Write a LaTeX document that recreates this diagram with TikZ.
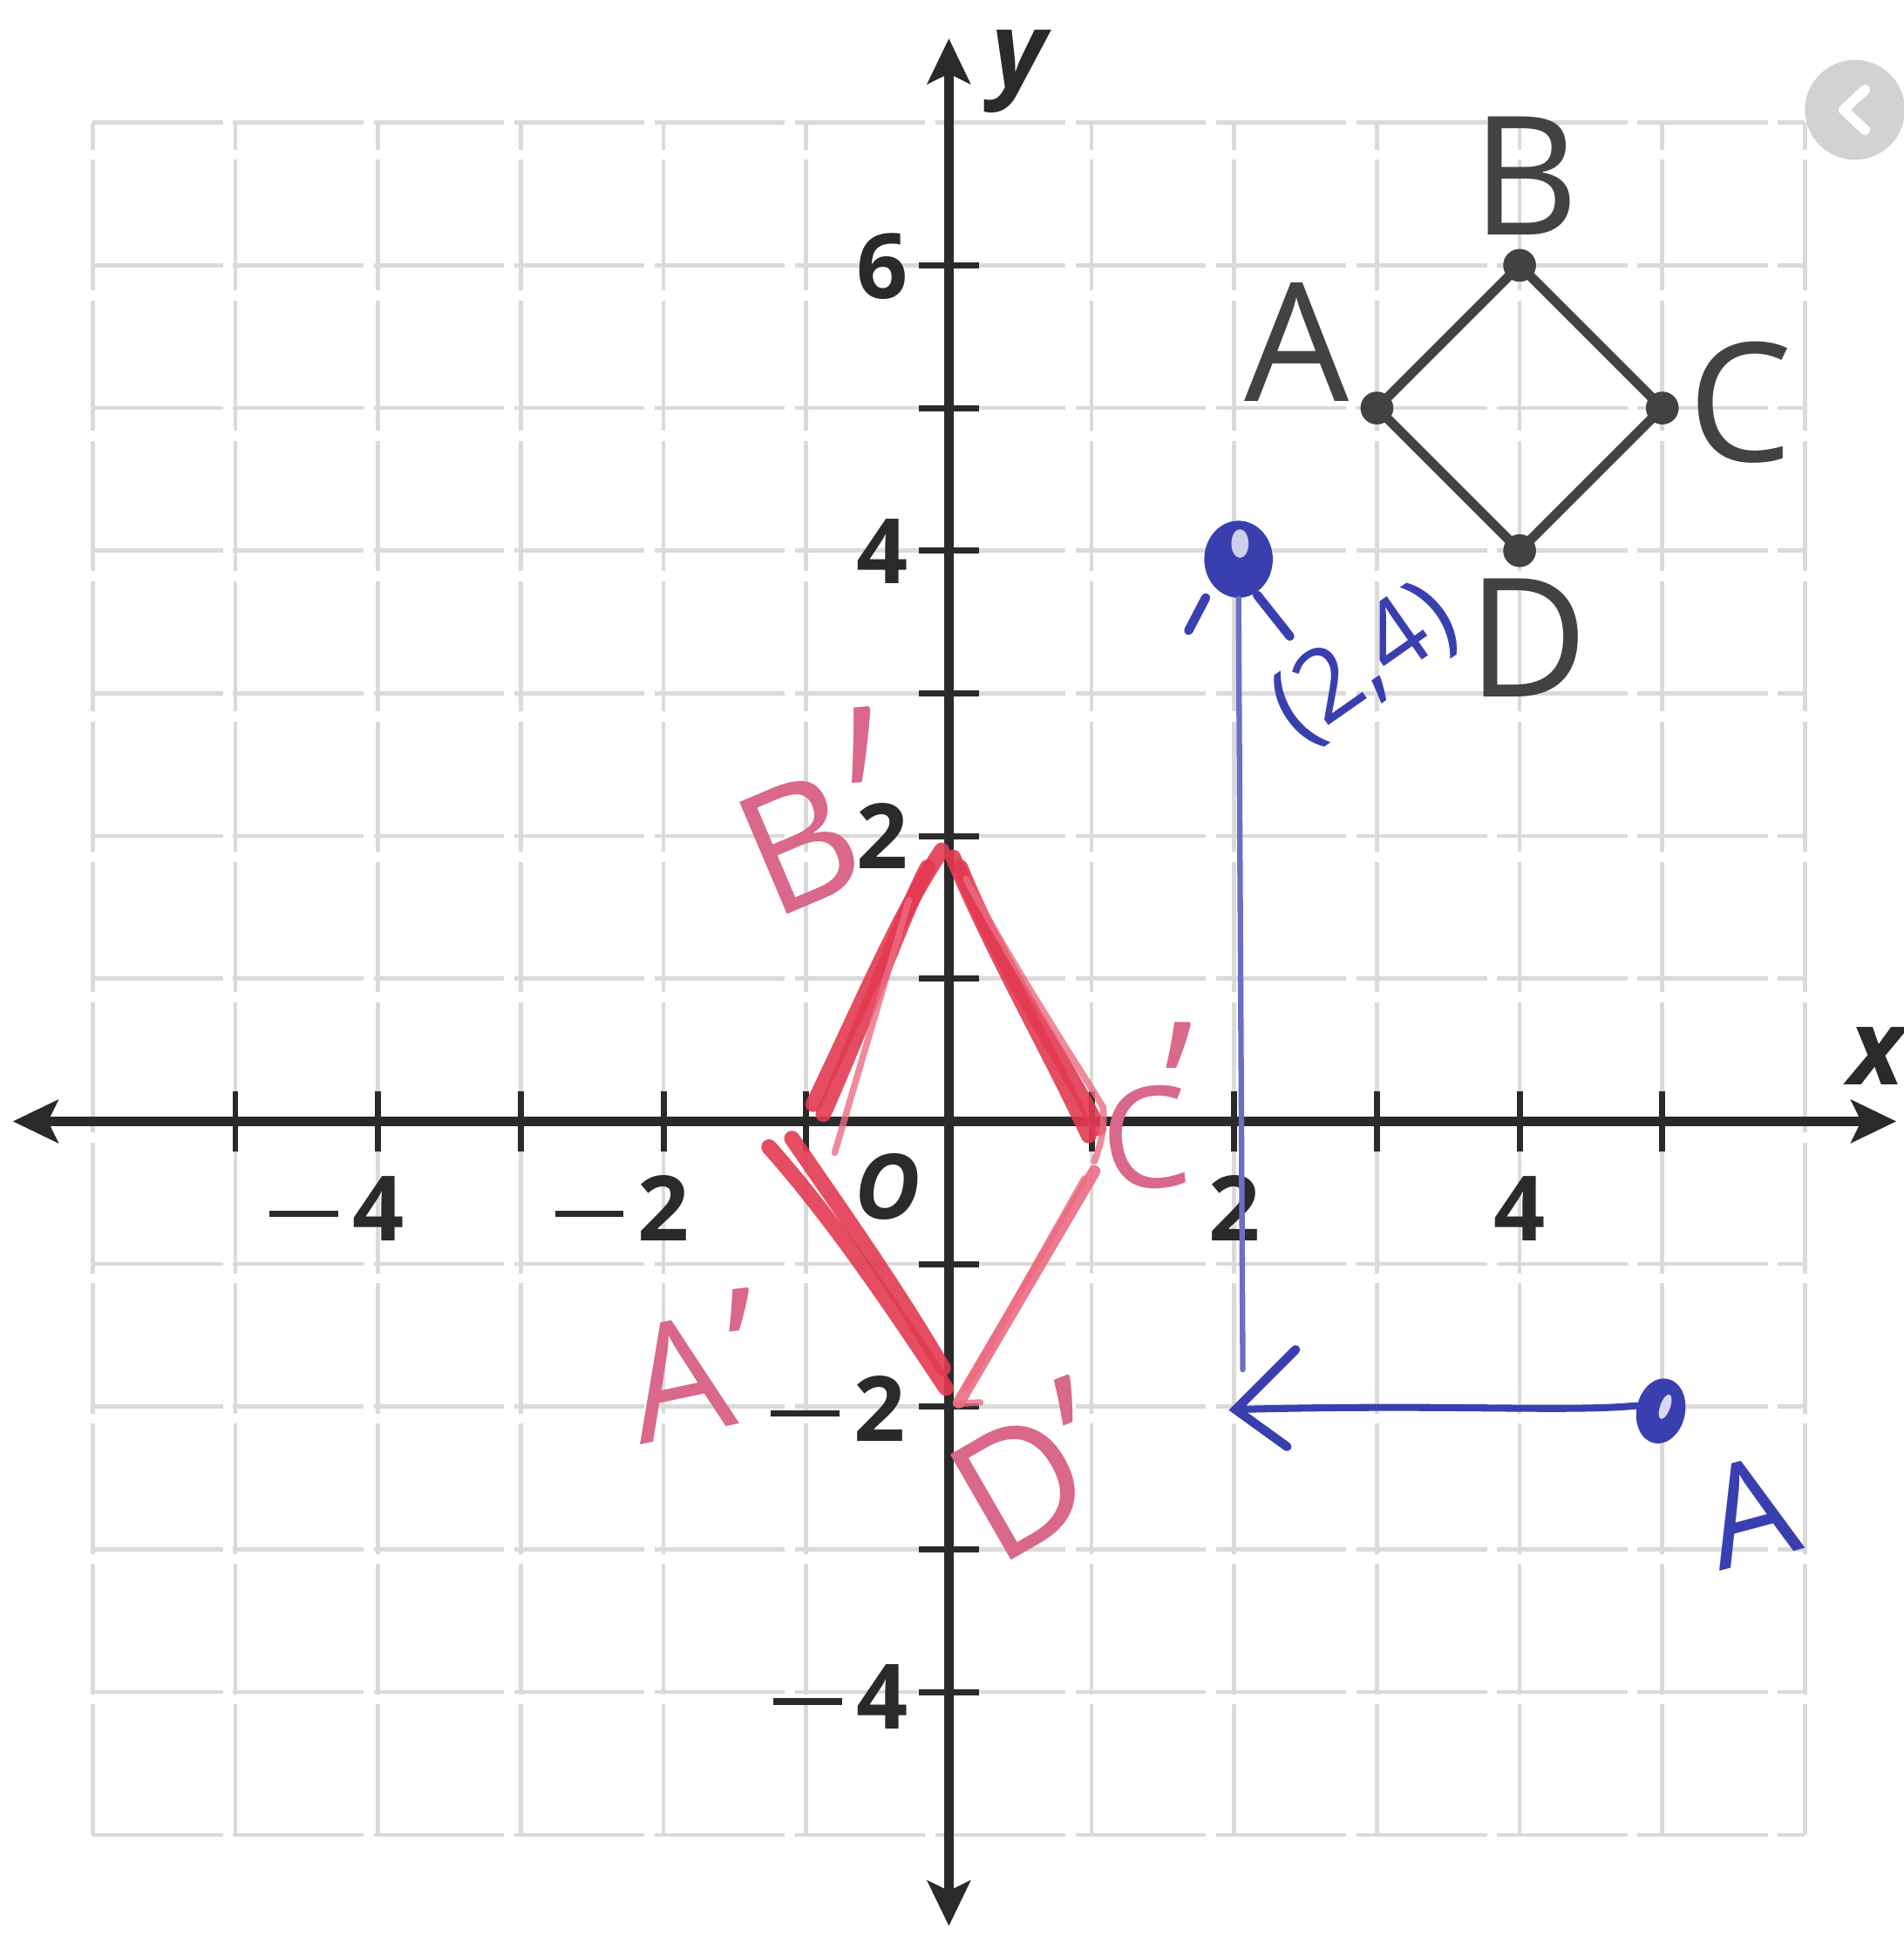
\documentclass[tikz,border=0pt]{standalone}
\usepackage{fontspec}
\usepackage{graphicx}
\setmainfont{Open Sans}
\usetikzlibrary{arrows.meta,calc,shapes.geometric}
\definecolor{gridc}{HTML}{DADADA}
\definecolor{axisc}{HTML}{2A2A2A}
\definecolor{sqc}{HTML}{424242}
\definecolor{redc}{HTML}{E33A52}
\definecolor{redl}{HTML}{EC6C82}
\definecolor{pinkc}{HTML}{D9688A}
\definecolor{bluec}{HTML}{3A3FB0}
\definecolor{bluel}{HTML}{6A6FC6}
\definecolor{uigray}{HTML}{D2D2D2}
\newcommand\mn{\rule[0.17cm]{0.48cm}{1.3pt}\kern0.1cm}
\begin{document}
\begin{tikzpicture}[
  gridline/.style={draw=gridc,line width=0.8pt,dash pattern=on 26pt off 2pt},
  axisline/.style={draw=axisc,line width=1.9pt,{Stealth[length=9pt,width=8.5pt,inset=2pt]}-{Stealth[length=9pt,width=8.5pt,inset=2pt]}},
  tickmark/.style={draw=axisc,line width=1.2pt},
  numlab/.style={font=\fontsize{18}{18}\selectfont\bfseries,text=axisc,inner sep=0pt},
  axlab/.style={font=\fontsize{21}{21}\selectfont\bfseries\itshape,text=axisc,inner sep=0pt},
  sqside/.style={draw=sqc,line width=1.9pt},
  sqdot/.style={circle,fill=sqc,inner sep=0pt,minimum size=0.23cm},
  sqlab/.style={font=\fontsize{33}{33}\selectfont,text=sqc,inner sep=0pt},
  redthick/.style={draw=redc,line width=3.1pt,line cap=round,opacity=0.9},
  redthin/.style={draw=redl,line width=1.3pt,line cap=round,opacity=0.8},
  pinklab/.style={font=\fontsize{34}{34}\selectfont,text=pinkc,inner sep=0pt},
  primelab/.style={font=\fontsize{34}{34}\selectfont,text=pinkc,inner sep=0pt,anchor=north},
  bluepen/.style={draw=bluec,line width=1.4pt,line cap=round},
  bluefine/.style={draw=bluel,line width=1.1pt,line cap=round},
  bluedot/.style={ellipse,fill=bluec,inner sep=0pt},
  bluelab/.style={text=bluec,inner sep=0pt}
]
\useasboundingbox (-6.65,-5.71) rectangle (6.69,7.86);
\fill[white] (-6.65,-5.71) rectangle (6.69,7.86);

% grid
\foreach \x in {-6,...,6} \draw[gridline] (\x,-5) -- (\x,7);
\foreach \y in {-5,...,7} \draw[gridline] (-6,\y) -- (6,\y);

% UI circle
\node[circle,fill=uigray,minimum size=0.7cm,inner sep=0pt] (ui) at (6.35,7.09) {};
\draw[white,line width=2pt,line cap=round,line join=round] ($(ui)+(0.07,0.14)$) -- ($(ui)+(-0.08,0)$) -- ($(ui)+(0.07,-0.14)$);

% axes
\coordinate (xl) at (-6.56,0); \coordinate (xr) at (6.64,0);
\coordinate (yb) at (0,-5.64); \coordinate (yt) at (0,7.59);
\draw[axisline] (xl) -- (xr);
\draw[axisline] (yb) -- (yt);
\foreach \x in {-5,...,-1,1,2,...,5} \draw[tickmark] (\x,-0.21) -- (\x,0.21);
\foreach \y in {-4,...,-1,1,2,...,6} \draw[tickmark] (-0.21,\y) -- (0.21,\y);

% axis numbers
\node[numlab,anchor=base] (xm4) at (-4,-0.84) {\llap{\mn}4};
\node[numlab,anchor=base] (xm2) at (-2,-0.84) {\llap{\mn}2};
\node[numlab,anchor=base] (xp2) at (2,-0.84) {2};
\node[numlab,anchor=base] (xp4) at (4,-0.84) {4};
\node[numlab,anchor=base east] (y6) at (-0.28,5.77) {6};
\node[numlab,anchor=base east] (y4) at (-0.28,3.77) {4};
\node[numlab,anchor=base east] (y2) at (-0.28,1.77) {2};
\node[numlab,anchor=base east] (ym2) at (-0.30,-2.24) {\mn2};
\node[numlab,anchor=base east] (ym4) at (-0.28,-4.26) {\mn4};
\node[numlab,font=\fontsize{18}{18}\selectfont\bfseries\itshape] (orig) at (-0.43,-0.46) {O};
\node[axlab] (xlab) at (6.5,0.46) {x};
\node[axlab] (ylab) at (0.49,7.36) {y};

% square ABCD
\node[sqdot] (A) at (3,5) {};
\node[sqdot] (B) at (4,6) {};
\node[sqdot] (C) at (5,5) {};
\node[sqdot] (D) at (4,4) {};
\draw[sqside] (A.center) -- (B.center) -- (C.center) -- (D.center) -- cycle;
\node[sqlab] (lA) at (2.44,5.46) {A};
\node[sqlab] (lB) at (4.04,6.63) {B};
\node[sqlab] (lC) at (5.55,5.04) {C};
\node[sqlab] (lD) at (4.06,3.39) {D};

% red rhombus (hand drawn)
\coordinate (Ap) at (-1,0);
\coordinate (Bp) at (0,1.9);
\coordinate (Cp) at (1,-0.1);
\coordinate (Dp) at (0,-1.95);
\draw[redthick] ($(Ap)+(0.05,0.12)$) .. controls (-0.6,0.85) and (-0.35,1.45) .. ($(Bp)+(-0.05,0)$);
\draw[redthick] ($(Ap)+(0.12,0.05)$) .. controls (-0.55,0.8) and (-0.3,1.5) .. ($(Bp)+(-0.15,-0.12)$);
\draw[redthin] ($(Ap)+(0.2,-0.22)$) -- ($(Bp)+(-0.28,-0.35)$);
\draw[redthick] ($(Bp)+(0.03,-0.05)$) .. controls (0.3,1.2) and (0.7,0.5) .. ($(Cp)+(-0.02,0)$);
\draw[redthick] ($(Bp)+(0.08,-0.12)$) .. controls (0.35,1.1) and (0.8,0.45) .. ($(Cp)+(0.05,0.05)$);
\draw[redthin] ($(Bp)+(0.12,-0.2)$) .. controls (0.5,1.0) and (0.9,0.4) .. (1.08,0.1) .. controls (1.1,-0.05) and (1.05,-0.2) .. (1.02,-0.28);
\draw[redthick,draw=redl,line width=2.4pt] ($(Cp)+(0.02,-0.25)$) -- ($(Dp)+(0.07,-0.02)$);
\draw[redthin] ($(Cp)+(-0.05,-0.3)$) -- ($(Dp)+(0.12,0.08)$);
\draw[redthick] ($(Ap)+(-0.26,-0.18)$) .. controls (-0.8,-0.7) and (-0.4,-1.3) .. ($(Dp)+(-0.02,0.08)$);
\draw[redthick] ($(Ap)+(-0.1,-0.12)$) .. controls (-0.7,-0.7) and (-0.35,-1.2) .. ($(Dp)+(-0.04,0.22)$);
\draw[redthin] ($(Dp)+(0.05,-0.03)$) -- ($(Dp)+(0.22,-0.02)$);

% pink labels
\node[pinklab,rotate=23] (lBp) at (-1.05,1.95) {B};
\node[primelab,rotate=5] (lBpp) at (-0.64,2.91) {\scalebox{1}[1.8]{'}};
\node[pinklab,font=\fontsize{32}{32}\selectfont,rotate=12] (lAp) at (-1.9,-1.8) {A};
\node[primelab,rotate=7] (lApp) at (-1.49,-1.17) {'};
\node[pinklab,font=\fontsize{28}{28}\selectfont,rotate=5] (lCp) at (1.38,-0.12) {C};
\node[primelab,rotate=0] (lCpp) at (1.61,0.7) {\scalebox{1}[1.1]{'}};
\node[pinklab,rotate=30] (lDp) at (0.5,-2.55) {D};
\node[primelab,rotate=22] (lDpp) at (0.76,-1.8) {\scalebox{1}[1.1]{'}};

% blue annotations
\node[bluedot,minimum width=0.34cm,minimum height=0.46cm,rotate=-12] (Pa) at (4.99,-2.03) {};
\fill[white,opacity=0.8,rotate around={-20:(5.02,-2.0)}] (5.02,-2.0) ellipse (0.035 and 0.09);
\coordinate (P2) at (2.01,-2.02);
\draw[bluepen] (Pa.west) .. controls (4.3,-2.04) and (3.5,-1.98) .. (P2);
\draw[bluepen,line width=1.8pt] ($(P2)+(0.42,0.42)$) -- (P2) -- ($(P2)+(0.36,-0.26)$);
\node[bluedot,minimum width=0.48cm,minimum height=0.54cm] (Q) at (2.03,3.94) {};
\fill[white,opacity=0.75] (2.04,4.05) ellipse (0.06 and 0.1);
\coordinate (Qb) at (2.06,-1.74);
\draw[bluefine] (Qb) -- (Q.south);
\draw[bluepen,line width=1.8pt] ($(Q)+(-0.23,-0.27)$) -- ($(Q)+(-0.35,-0.5)$);
\draw[bluepen,line width=1.8pt] ($(Q)+(0.13,-0.25)$) -- ($(Q)+(0.36,-0.54)$);
\node[bluelab,font=\fontsize{20}{20}\selectfont,rotate=35] (lQ) at (2.92,3.2) {(2,4)};
\node[bluelab,font=\fontsize{28}{28}\selectfont,rotate=15] (lPa) at (5.61,-2.73) {A};
\end{tikzpicture}
\end{document}
